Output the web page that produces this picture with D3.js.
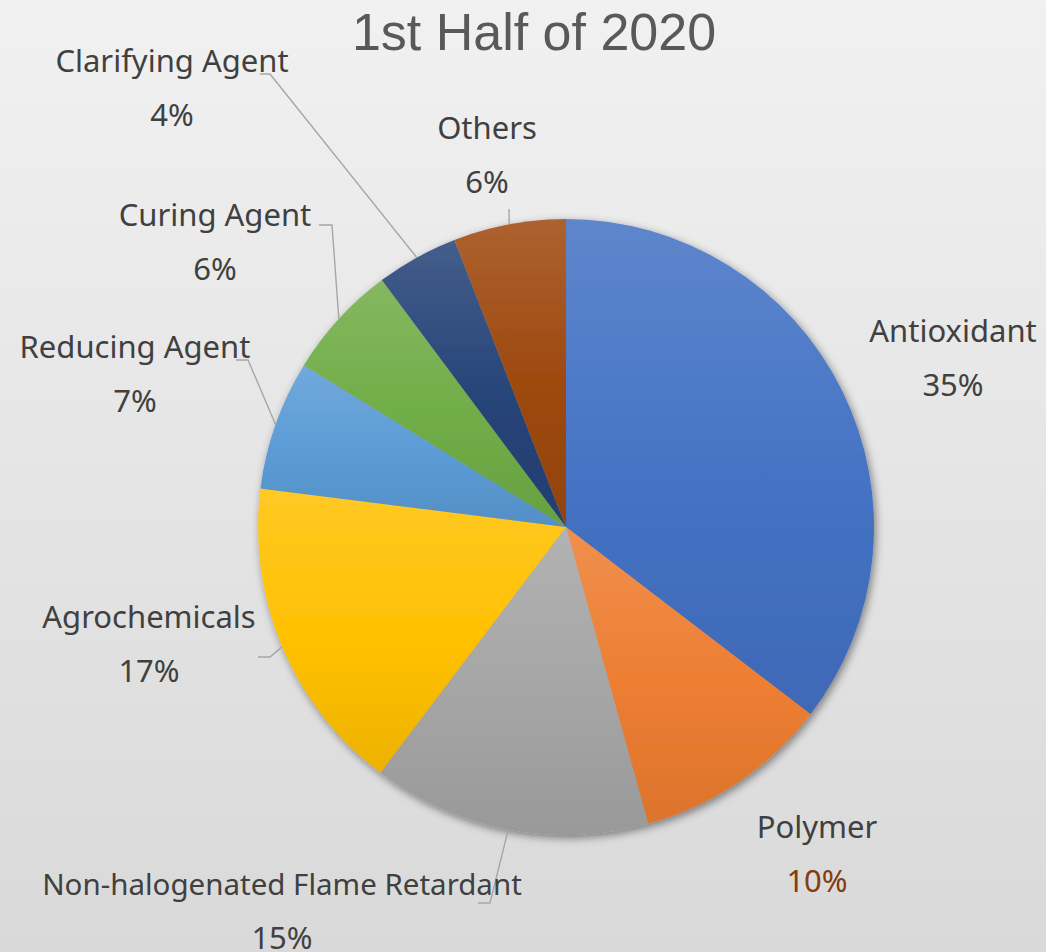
<!DOCTYPE html>
<html>
<head>
<meta charset="utf-8">
<script src="https://cdn.jsdelivr.net/npm/d3@7"></script>
<style>
  body { margin: 0; }
</style>
</head>
<body>
<div id="chart"></div>
<script>
var categories = ["Antioxidant", "Polymer", "Non-halogenated Flame Retardant", "Agrochemicals",
  "Reducing Agent", "Curing Agent", "Clarifying Agent", "Others"];
var shares = [35.4, 10.3, 14.6, 16.7, 6.8, 6.0, 4.3, 5.9];
var pctLabels = ["35%", "10%", "15%", "17%", "7%", "6%", "4%", "6%"];
var sliceColors = ["#4472C4", "#ED7D31", "#A5A5A5", "#FFC000", "#5B9BD5", "#70AD47", "#264478", "#9E480E"];

(function() {
  var width = 1046,
    height = 952,
    cx = 566, cy = 527, radius = 308

  // label placement (center of text, baseline of name), leader elbow if any
  var labelPos = [
    { x: 953, y: 342, line: null },
    { x: 817, y: 838, line: null, pctColor: "#843C0C" },
    { x: 282, y: 895, line: [478, 903, 490], size: 29.5 },
    { x: 149, y: 628, line: [258, 657, 270] },
    { x: 135, y: 358, line: [236, 360, 248] },
    { x: 215, y: 226, line: [319, 225, 332] },
    { x: 172, y: 72, line: [260, 74, 270] },
    { x: 487, y: 139, line: [509, 209, 509] }
  ]

  var svg = d3.select("#chart")
    .append("svg")
    .attr("width", width)
    .attr("height", height)

  var defs = svg.append("defs")

  var bg = defs.append("linearGradient")
    .attr("id", "bg")
    .attr("x1", 0).attr("y1", 0).attr("x2", 0).attr("y2", 1)
  bg.append("stop").attr("offset", "0%").attr("stop-color", "#f1f1f1")
  bg.append("stop").attr("offset", "100%").attr("stop-color", "#d9d9d9")

  sliceColors.forEach(function(c, i) {
    var g = defs.append("linearGradient")
      .attr("id", "grad" + i)
      .attr("x1", 0).attr("y1", 0).attr("x2", 0).attr("y2", 1)
    g.append("stop").attr("offset", "0%")
      .attr("stop-color", d3.interpolateRgb(c, "#ffffff")(0.14))
    g.append("stop").attr("offset", "55%").attr("stop-color", c)
    g.append("stop").attr("offset", "100%")
      .attr("stop-color", d3.color(c).darker(0.22).formatHex())
  })

  var shadow = defs.append("filter")
    .attr("id", "shadow")
    .attr("x", "-10%").attr("y", "-10%").attr("width", "120%").attr("height", "120%")
  shadow.append("feDropShadow")
    .attr("dx", 2).attr("dy", 3)
    .attr("stdDeviation", 4)
    .attr("flood-color", "#000")
    .attr("flood-opacity", 0.45)

  svg.append("rect")
    .attr("width", width)
    .attr("height", height)
    .attr("fill", "url(#bg)")

  svg.append("text")
    .attr("x", 534)
    .attr("y", 50)
    .attr("text-anchor", "middle")
    .attr("font-family", "Liberation Sans, Arial, sans-serif")
    .attr("font-size", 52)
    .attr("fill", "#595959")
    .text("1st Half of 2020")

  var pie = d3.pie().sort(null).value(function(d) { return d })
  var arcs = pie(shares)

  var arc = d3.arc().innerRadius(0).outerRadius(radius)

  var pieG = svg.append("g")
    .attr("transform", "translate(" + cx + "," + cy + ")")

  var slices = pieG.append("g")
    .attr("filter", "url(#shadow)")

  slices.selectAll(".slice")
    .data(arcs)
    .enter().append("path")
    .attr("class", "slice")
    .attr("d", arc)
    .attr("fill", function(d, i) { return "url(#grad" + i + ")" })

  // leader lines
  arcs.forEach(function(d, i) {
    var p = labelPos[i]
    if (!p.line) return
    var mid = (d.startAngle + d.endAngle) / 2
    var ex = cx + radius * Math.sin(mid),
      ey = cy - radius * Math.cos(mid)
    svg.append("polyline")
      .attr("points", [p.line[0], p.line[1], p.line[2], p.line[1], ex, ey].join(","))
      .attr("fill", "none")
      .attr("stroke", "#a6a6a6")
      .attr("stroke-width", 1.4)
  })

  var labels = svg.selectAll(".label")
    .data(arcs)
    .enter().append("g")
    .attr("class", "label")
    .attr("font-family", "Noto Sans, Open Sans, sans-serif")
    .attr("text-anchor", "middle")

  labels.append("text")
    .attr("x", function(d, i) { return labelPos[i].x })
    .attr("y", function(d, i) { return labelPos[i].y })
    .attr("font-size", function(d, i) { return labelPos[i].size || 31 })
    .attr("fill", "#404040")
    .text(function(d, i) { return categories[i] })

  labels.append("text")
    .attr("x", function(d, i) { return labelPos[i].x })
    .attr("y", function(d, i) { return labelPos[i].y + 54 })
    .attr("font-size", 31)
    .attr("fill", function(d, i) { return labelPos[i].pctColor || "#404040" })
    .text(function(d, i) { return pctLabels[i] })
})();
</script>
</body>
</html>
